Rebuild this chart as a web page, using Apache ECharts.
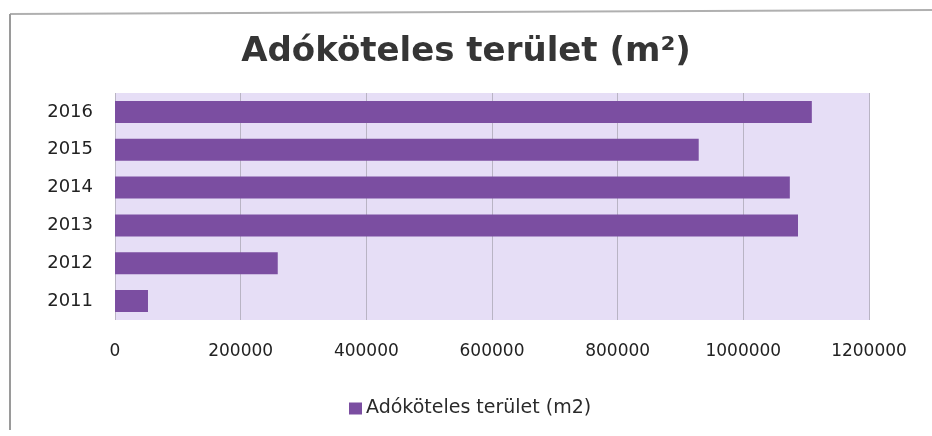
<!DOCTYPE html>
<html><head><meta charset="utf-8">
<script src="https://cdn.jsdelivr.net/npm/echarts@6/dist/echarts.min.js"></script>
<style>html,body{margin:0;padding:0;background:#fff}#c{width:932px;height:436px}</style>
</head><body><div id="c"></div>
<script>
const categories = ['2011','2012','2013','2014','2015','2016'];
const values = [52500, 259000, 1087000, 1074000, 929000, 1109000];
const seriesName = 'Adóköteles terület (m2)';
const titleText = 'Adóköteles terület (m²)';

const chart = echarts.init(document.getElementById('c'));
chart.setOption({
  animation: false,
  backgroundColor: '#ffffff',
  title: {
    text: titleText, left: 'center', top: 30,
    textStyle: {fontFamily: 'DejaVu Sans', fontWeight: 'bold', fontSize: 34, color: '#353535'}
  },
  graphic: [
    {type: 'line', shape: {x1: 10, y1: 14, x2: 932, y2: 10}, style: {stroke: '#b0b0b0', lineWidth: 2}},
    {type: 'line', shape: {x1: 10, y1: 14, x2: 10, y2: 430}, style: {stroke: '#9a9a9a', lineWidth: 2}}
  ],
  legend: {
    top: 394, left: 344, itemWidth: 13, itemHeight: 12, itemGap: 4, icon: 'rect',
    textStyle: {fontFamily: 'DejaVu Sans', fontSize: 19, color: '#2a2a2a', padding: [0, 0, 0, -1]}
  },
  grid: {left: 115, right: 63, top: 93, bottom: 116, show: true, backgroundColor: '#e6def6', borderWidth: 0},
  xAxis: {
    type: 'value', min: 0, max: 1200000, interval: 200000,
    axisLine: {show: false}, axisTick: {show: false},
    axisLabel: {margin: 23, fontFamily: 'DejaVu Sans', fontSize: 17, color: '#222',
      formatter: function (v) { return String(v); }},
    splitLine: {show: true, lineStyle: {color: '#b9b4c4', width: 1}}
  },
  yAxis: {
    type: 'category', data: categories,
    axisLine: {show: false}, axisTick: {show: false},
    axisLabel: {margin: 22, fontFamily: 'DejaVu Sans', fontSize: 18, color: '#222'}
  },
  series: [{
    name: seriesName, type: 'bar', data: values, barWidth: 22,
    itemStyle: {color: '#7b4ea1'}
  }]
});
</script></body></html>
